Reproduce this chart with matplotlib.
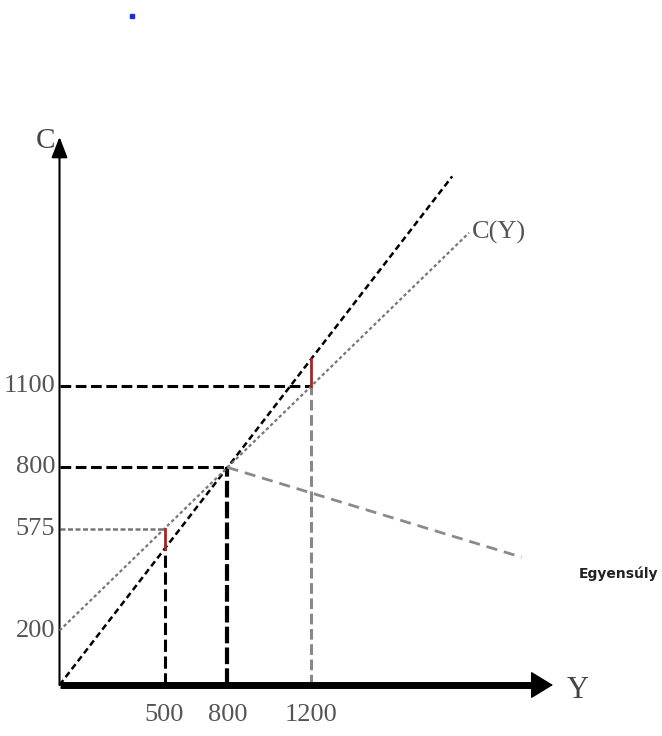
import numpy as np
import matplotlib.pyplot as plt

# values
income_ticks = [500, 800, 1200]          # Y
cons_ticks = [200, 575, 800, 1100]       # C
autonomous = 200                         # C(0)
mpc = 0.75                               # slope of C(Y)
y_eq = 800                               # C(Y) = Y here

line45_end = 1870                        # where the 45 degree line stops
cy_end = 1950                            # where C(Y) stops
decl_y = [800, 2200]                     # falling line from the equilibrium point
decl_c = [800, 470]

y_axis_top = 2015
x_axis_right = 2350


def cons(y):
    return autonomous + mpc * np.asarray(y, dtype=float)


def main():
    plt.rcParams['font.family'] = ['Liberation Serif', 'DejaVu Serif']

    fig = plt.figure(figsize=(6.62, 7.36), dpi=100)
    ax = fig.add_axes([0, 0, 1, 1])
    ax.axis('off')

    # scale of the sketch: pixels per unit
    kx, ky = 0.21, 0.272
    ax.set_xlim(-59.5 / kx, (662 - 59.5) / kx)
    ax.set_ylim(-51 / ky, (736 - 51) / ky)

    # axes with arrow heads
    ax.annotate('', xy=(0, y_axis_top), xytext=(0, 0),
                arrowprops=dict(arrowstyle='-|>,head_length=0.9,head_width=0.35',
                                lw=1.5, color='black', mutation_scale=14,
                                shrinkA=0, shrinkB=0))
    ax.plot([0, x_axis_right - 60], [0, 0], color='black', lw=5,
            solid_capstyle='butt', zorder=5)
    ax.annotate('', xy=(x_axis_right, 0), xytext=(x_axis_right - 80, 0),
                arrowprops=dict(arrowstyle='-|>,head_length=0.9,head_width=0.55',
                                lw=1, color='black', mutation_scale=16,
                                shrinkA=0, shrinkB=0), zorder=6)

    # 45 degree line and C(Y)
    yy = np.array([0, line45_end])
    ax.plot(yy, yy, color='black', lw=1.8, dashes=(2.5, 1.5), zorder=3)
    yc = np.array([0, cy_end])
    ax.plot(yc, cons(yc), color='#777777', lw=1.6, dashes=(1.5, 1.2), zorder=3)

    # falling line
    ax.plot(decl_y, decl_c, color='#8a8a8a', lw=2, dashes=(4, 2.5), zorder=3)

    # guides
    y500, y800, y1200 = income_ticks
    c500, c1200 = cons(y500), cons(y1200)
    ax.plot([0, y1200], [c1200, c1200], color='black', lw=2.2, dashes=(3.5, 1.5))
    ax.plot([0, y800], [y800, y800], color='black', lw=2.2, dashes=(3.5, 1.5))
    ax.plot([0, y500], [c500, c500], color='#777777', lw=1.8, dashes=(2, 1))
    ax.plot([y500, y500], [0, y500], color='black', lw=2.2, dashes=(4, 1.5))
    ax.plot([y800, y800], [0, y800], color='black', lw=3, dashes=(4, 1))
    ax.plot([y1200, y1200], [0, c1200], color='#888888', lw=2.2, dashes=(3.5, 1.5))

    # gaps between C(Y) and the 45 degree line
    ax.plot([y500, y500], [y500, c500], color='#a02828', lw=2, zorder=4)
    ax.plot([y1200, y1200], [c1200, y1200], color='#a02828', lw=2, zorder=4)

    # tick labels
    tick_kw = dict(textcoords='offset points', fontsize=19, color='#555555')
    for v in cons_ticks:
        ax.annotate(str(v), (0, v), xytext=(-3, 0), ha='right', va='center', **tick_kw)
    for v in income_ticks:
        ax.annotate(str(v), (v, 0), xytext=(0, -14), ha='center', va='top', **tick_kw)

    # axis names and labels
    ax.annotate('C', (0, y_axis_top), xytext=(-10, -3), textcoords='offset points',
                ha='center', va='center', fontsize=21, color='#444444')
    ax.annotate('Y', (x_axis_right, 0), xytext=(18, -4), textcoords='offset points',
                ha='center', va='center', fontsize=22, color='#444444')
    ax.annotate('C(Y)', (cy_end, cons(cy_end)), xytext=(2, 0), textcoords='offset points',
                ha='left', va='center', fontsize=19, color='#555555')
    ax.annotate('Egyensúly', (decl_y[-1], decl_c[-1]), xytext=(70, -12),
                textcoords='offset points', ha='center', va='center',
                fontsize=10, fontweight='bold', color='#222222', family='DejaVu Sans')

    # small blue speck at the top
    ax.plot([0.2], [0.978], 's', color='#1a2ee0', ms=3, transform=fig.transFigure)

    fig.savefig('out.png', dpi=100)


if __name__ == '__main__':
    main()
